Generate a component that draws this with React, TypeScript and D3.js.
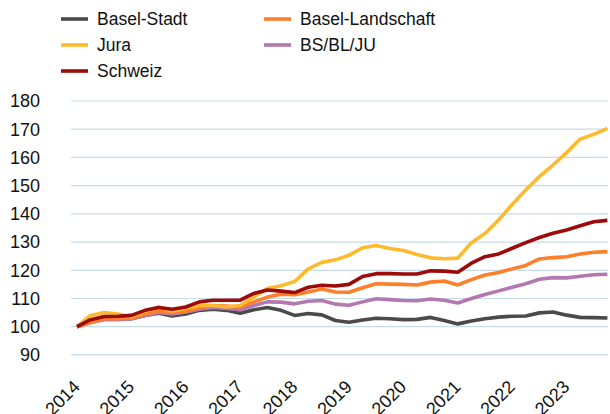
import React from 'react';
import * as d3 from 'd3';

// quarterly index values, Q1 2014 = 100
const years = [2014, 2015, 2016, 2017, 2018, 2019, 2020, 2021, 2022, 2023];
const yTicks = [90, 100, 110, 120, 130, 140, 150, 160, 170, 180];

const baselStadt = [
  100, 101.8, 102.8, 102.8, 102.8, 104, 104.8, 103.8, 104.5, 105.8,
  106.2, 105.8, 104.8, 106, 106.8, 105.8, 104, 104.7, 104.2, 102.2,
  101.6, 102.4, 103, 102.8, 102.5, 102.6, 103.3, 102.2, 101, 102,
  102.8, 103.4, 103.7, 103.8, 104.9, 105.2, 104.1, 103.3, 103.2, 103.1,
];
const baselLandschaft = [
  100, 101.5, 102.8, 102.8, 103, 104.5, 105.5, 105, 105.5, 106.8,
  107.5, 107.3, 107, 108.8, 110.5, 111.5, 111.3, 112.3, 113.4, 112.3,
  112.2, 113.8, 115.2, 115.1, 115, 114.8, 115.8, 116.2, 114.8, 116.7,
  118.3, 119.2, 120.5, 121.7, 124, 124.5, 124.8, 125.8, 126.4, 126.6,
];
const jura = [
  100, 104, 105, 104.5, 103.5, 105.5, 107, 105.5, 106.5, 107.5,
  107.5, 107, 107.5, 110.5, 113.5, 114.5, 116, 120.5, 122.8, 123.7,
  125.3, 128, 128.8, 127.7, 127, 125.6, 124.4, 124.1, 124.3, 129.8,
  133, 137.8, 143.3, 148.5, 153.2, 157.3, 161.7, 166.5, 168.2, 170.3,
];
const bsBlJu = [
  100, 101.5, 102.5, 102.5, 102.8, 104, 105, 104.5, 105.2, 106.2,
  106.8, 106.5, 106, 107.5, 108.8, 108.7, 108.1, 109, 109.3, 108,
  107.6, 108.8, 109.9, 109.6, 109.3, 109.2, 109.8, 109.4, 108.4, 110,
  111.4, 112.7, 114, 115.2, 116.8, 117.4, 117.3, 117.9, 118.4, 118.6,
];
const schweiz = [
  100, 102.5, 103.6, 103.7, 104, 105.8, 106.8, 106.2, 107, 108.8,
  109.4, 109.4, 109.4, 111.8, 113, 112.6, 112.1, 114, 114.7, 114.4,
  115, 117.8, 118.8, 118.8, 118.7, 118.7, 119.8, 119.7, 119.3, 122.5,
  124.8, 125.8, 127.8, 129.8, 131.6, 133.1, 134.3, 135.8, 137.2, 137.7,
];

const series = [
  { name: 'Basel-Stadt', values: baselStadt, color: '#4a4a4a' },
  { name: 'BS/BL/JU', values: bsBlJu, color: '#b478b0' },
  { name: 'Basel-Landschaft', values: baselLandschaft, color: '#ff7e2a' },
  { name: 'Jura', values: jura, color: '#fdba2c' },
  { name: 'Schweiz', values: schweiz, color: '#9c0a0a' },
];

// legend layout order (column-wise, as in the reference)
const legendOrder = ['Basel-Stadt', 'Jura', 'Schweiz', 'Basel-Landschaft', 'BS/BL/JU'];

const width = 610;
const height = 414;
const font = 'Liberation Sans, Arial, sans-serif';

export default function App() {
  const x = d3.scaleLinear().domain([0, 39]).range([77, 607.4]);
  const y = d3.scaleLinear().domain([100, 180]).range([326.7, 101]);

  const line = d3.line<number>()
    .x((_, i) => x(i))
    .y(d => y(d));

  return (
    <svg width={width} height={height} style={{ position: 'absolute', left: 0, top: 0 }}
      fontFamily={font}>
      <rect width={width} height={height} fill="#fff" />
      {/* gridlines */}
      {yTicks.map(t => (
        <line key={t} x1={71} x2={608} y1={y(t)} y2={y(t)} stroke="#c6dbe9" strokeWidth={1.2} />
      ))}
      {/* y labels */}
      {yTicks.map(t => (
        <text key={t} x={40} y={y(t)} dy="0.35em" textAnchor="end" fontSize={18} fill="#111">{t}</text>
      ))}
      {/* x labels */}
      {years.map(yr => {
        const px = x((yr - 2014) * 4) + 4;
        const py = 388;
        return (
          <text key={yr} x={px} y={py} textAnchor="end" fontSize={18} fill="#111"
            transform={`rotate(-45,${px},${py})`}>{yr}</text>
        );
      })}
      {/* lines */}
      {series.map(s => (
        <path key={s.name} d={line(s.values)!} fill="none" stroke={s.color} strokeWidth={3.6}
          strokeLinejoin="round" />
      ))}
      {/* legend */}
      {legendOrder.map((name, i) => {
        const s = series.find(d => d.name === name)!;
        const col = i < 3 ? 0 : 1;
        const row = i < 3 ? i : i - 3;
        const lx = col === 0 ? 61 : 264;
        const ly = 19 + row * 26;
        return (
          <g key={name}>
            <line x1={lx} x2={lx + 27} y1={ly} y2={ly} stroke={s.color} strokeWidth={3.6} />
            <text x={lx + 36} y={ly} dy="0.35em" fontSize={17.5} fill="#111">{name}</text>
          </g>
        );
      })}
    </svg>
  );
}
